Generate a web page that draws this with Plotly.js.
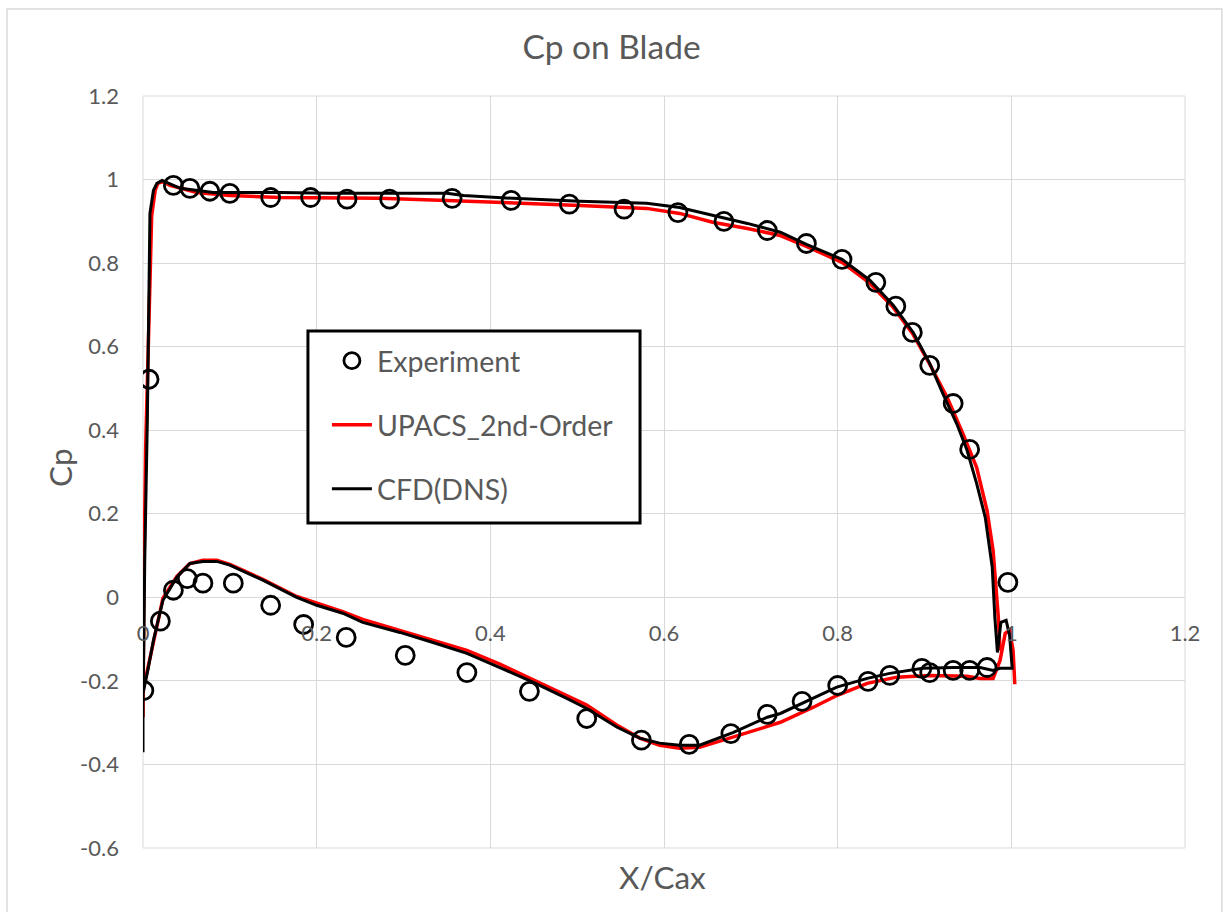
<!DOCTYPE html>
<html>
<head>
<meta charset="utf-8">
<script src="https://cdn.plot.ly/plotly-3.0.1.min.js"></script>
<style>html,body{margin:0;padding:0;background:#fff;}#chart{width:1223px;height:912px;}</style>
</head>
<body>
<div id="chart"></div>
<script>
// ---- Data ----
var expX = [0.007,0.035,0.054,0.077,0.100,0.147,0.193,0.235,0.284,0.356,0.424,0.491,0.554,0.616,0.669,0.719,0.764,0.805,0.844,0.867,0.886,0.906,0.933,0.952,0.996,
            0.001,0.020,0.035,0.051,0.069,0.104,0.147,0.185,0.234,0.302,0.373,0.445,0.511,0.574,0.629,0.677,0.719,0.759,0.800,0.835,0.860,0.897,0.906,0.933,0.952,0.972];
var expY = [0.522,0.986,0.979,0.972,0.967,0.957,0.957,0.953,0.953,0.955,0.950,0.941,0.929,0.921,0.900,0.878,0.847,0.809,0.754,0.697,0.634,0.555,0.464,0.354,0.036,
            -0.223,-0.057,0.017,0.045,0.034,0.034,-0.019,-0.065,-0.096,-0.139,-0.180,-0.225,-0.290,-0.342,-0.352,-0.326,-0.280,-0.249,-0.211,-0.201,-0.187,-0.170,-0.180,-0.175,-0.175,-0.168];

var upacsX = [0.000,0.000,0.001,0.003,0.006,0.008,0.010,0.014,0.017,0.023,0.031,0.062,0.100,0.158,0.215,0.273,0.350,0.426,0.503,0.580,0.618,0.656,0.696,0.734,0.764,0.805,0.837,0.864,0.887,0.906,0.926,0.944,0.960,0.972,0.979,0.985,0.987,
              null,
              1.004,1.002,0.998,0.993,0.987,0.979,0.964,0.949,0.906,0.868,0.834,0.799,0.772,0.734,0.719,0.680,0.641,0.618,0.595,0.572,0.546,0.511,0.488,0.449,0.411,0.373,0.334,0.296,0.253,0.230,0.200,0.177,0.138,0.100,0.085,0.069,0.054,0.039,0.023,0.012,0.005,0.000];
var upacsY = [-0.287,-0.151,0.041,0.352,0.591,0.764,0.914,0.974,0.991,0.995,0.986,0.969,0.962,0.957,0.955,0.955,0.950,0.945,0.938,0.931,0.919,0.898,0.883,0.866,0.840,0.802,0.752,0.694,0.629,0.558,0.479,0.393,0.311,0.208,0.112,-0.048,-0.127,
              null,
              -0.208,-0.127,-0.079,-0.086,-0.151,-0.194,-0.194,-0.189,-0.187,-0.191,-0.206,-0.235,-0.263,-0.299,-0.309,-0.335,-0.359,-0.361,-0.354,-0.337,-0.306,-0.258,-0.235,-0.196,-0.160,-0.127,-0.103,-0.079,-0.053,-0.034,-0.014,0.002,0.043,0.079,0.089,0.089,0.081,0.050,-0.002,-0.103,-0.175,-0.223];

var cfdX = [0.000,0.000,0.001,0.002,0.005,0.006,0.007,0.008,0.012,0.016,0.022,0.028,0.043,0.081,0.120,0.158,0.215,0.273,0.350,0.369,0.426,0.503,0.580,0.618,0.656,0.696,0.734,0.764,0.805,0.837,0.864,0.887,0.906,0.921,0.937,0.949,0.960,0.970,0.978,0.981,0.984,
            0.988,0.994,0.998,1.001,0.987,0.979,0.964,0.933,0.898,0.860,0.834,0.799,0.760,0.734,0.719,0.680,0.641,0.618,0.595,0.572,0.546,0.511,0.488,0.449,0.411,0.373,0.334,0.296,0.253,0.230,0.200,0.177,0.138,0.100,0.085,0.069,0.054,0.039,0.023,0.012,0.006,0.000];
var cfdY = [-0.371,-0.247,-0.103,0.089,0.424,0.639,0.764,0.919,0.974,0.991,0.998,0.993,0.979,0.969,0.969,0.969,0.967,0.967,0.967,0.962,0.955,0.948,0.943,0.933,0.914,0.895,0.874,0.845,0.809,0.759,0.699,0.634,0.560,0.488,0.416,0.352,0.273,0.191,0.072,-0.048,-0.132,
            -0.060,-0.055,-0.091,-0.170,-0.170,-0.175,-0.168,-0.168,-0.170,-0.182,-0.194,-0.215,-0.254,-0.278,-0.287,-0.323,-0.354,-0.354,-0.349,-0.337,-0.311,-0.266,-0.242,-0.203,-0.168,-0.134,-0.108,-0.084,-0.060,-0.038,-0.019,0.000,0.041,0.077,0.086,0.086,0.081,0.048,-0.007,-0.103,-0.170,-0.230];

var xTickVals = [0,0.2,0.4,0.6,0.8,1,1.2];
var xTickText = ["0","0.2","0.4","0.6","0.8","1","1.2"];
var yTickVals = [-0.6,-0.4,-0.2,0,0.2,0.4,0.6,0.8,1,1.2];
var yTickText = ["-0.6","-0.4","-0.2","0","0.2","0.4","0.6","0.8","1","1.2"];

var FONT = "Lato, 'Open Sans', sans-serif";
var GRAY = "#595959";
var GRID = "#d9d9d9";

var traces = [
  {x: upacsX, y: upacsY, type: 'scatter', mode: 'lines', name: 'UPACS_2nd-Order',
   line: {color: '#ff0000', width: 3.5}, connectgaps: false, legendrank: 2, legendgroup: 'b'},
  {x: cfdX, y: cfdY, type: 'scatter', mode: 'lines', name: 'CFD(DNS)',
   line: {color: '#000000', width: 3}, legendrank: 3, legendgroup: 'c'},
  {x: expX, y: expY, type: 'scatter', mode: 'markers', name: 'Experiment',
   marker: {symbol: 'circle-open', size: 18, color: '#000000', line: {width: 2.8, color: '#000000'}},
   legendrank: 1, legendgroup: 'a'}
];

var layout = {
  width: 1223, height: 912,
  margin: {l: 143, r: 38, t: 96, b: 64},
  paper_bgcolor: '#ffffff', plot_bgcolor: '#ffffff',
  font: {family: FONT, color: GRAY},
  title: {text: 'Cp on Blade', x: 0.5, xref: 'container', xanchor: 'center',
          y: 1 - 47/912, yref: 'container', yanchor: 'middle',
          font: {family: FONT, size: 33.5, color: GRAY}},
  xaxis: {range: [0, 1.2], tickvals: xTickVals, ticktext: xTickText,
          showgrid: true, gridcolor: GRID, gridwidth: 1, zeroline: false, showline: false,
          anchor: 'free', position: 1/3, ticks: '', ticklabelstandoff: 21,
          tickfont: {family: FONT, size: 22, color: GRAY}},
  yaxis: {range: [-0.6, 1.2], tickvals: yTickVals, ticktext: yTickText,
          showgrid: true, gridcolor: GRID, gridwidth: 1, zeroline: false, showline: false,
          ticks: '', ticklabelstandoff: 23,
          tickfont: {family: FONT, size: 22, color: GRAY}},
  showlegend: true,
  legend: {x: 0.1765, y: 0.6813, xanchor: 'left', yanchor: 'top',
           bgcolor: 'rgba(0,0,0,0)', borderwidth: 0,
           traceorder: 'grouped', tracegroupgap: 24, itemwidth: 40,
           font: {family: FONT, size: 28.5, color: GRAY}},
  shapes: [
    {type: 'rect', xref: 'paper', yref: 'paper', x0: 0, x1: 1, y0: 0, y1: 1,
     line: {color: GRID, width: 1}, layer: 'below'},
    {type: 'rect', xref: 'paper', yref: 'paper', x0: -0.1305, x1: 1.0355, y0: -0.09, y1: 1.1157,
     line: {color: GRID, width: 1.5}, layer: 'below'},
    {type: 'rect', xref: 'paper', yref: 'paper', x0: 0.1583, x1: 0.4770, y0: 0.4322, y1: 0.6875,
     line: {color: '#000000', width: 3}, fillcolor: '#ffffff', layer: 'above'}
  ],
  annotations: [
    {text: 'X/Cax', xref: 'paper', yref: 'paper', x: 0.499, y: -0.0386, xanchor: 'center', yanchor: 'middle',
     showarrow: false, font: {family: FONT, size: 31.5, color: GRAY}},
    {text: 'Cp', xref: 'paper', yref: 'paper', x: -0.0797, y: 0.5066, xanchor: 'center', yanchor: 'middle',
     textangle: -90, showarrow: false, font: {family: FONT, size: 31.5, color: GRAY}}
  ]
};

Plotly.newPlot('chart', traces, layout, {displayModeBar: false, staticPlot: true});
</script>
</body>
</html>
